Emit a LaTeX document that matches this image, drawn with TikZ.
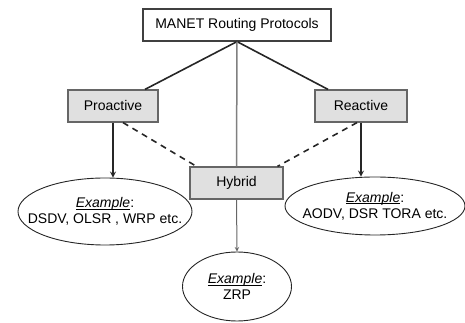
\documentclass[tikz,border=0pt]{standalone}
\usepackage{fontspec}
\setmainfont{Liberation Sans}
\usetikzlibrary{shapes.geometric}

\tikzset{
  toptype/.style={draw=black!75,fill=white,line width=1.2pt,minimum width=188pt,minimum height=32pt,inner sep=0pt},
  classbox/.style={draw=black!60,fill=black!12,line width=1.2pt,minimum height=32pt,inner sep=0pt},
  exbubble/.style={ellipse,draw=black!85,line width=0.9pt,inner sep=0pt},
  branch/.style={line width=1.6pt,black!85},
}
\newsavebox{\exbox}
\newcommand{\exlabel}{\sbox{\exbox}{\textit{Example}}%
  \leavevmode\rlap{\rule[-2pt]{\wd\exbox}{0.7pt}}\usebox{\exbox}:}

\begin{document}
\begin{tikzpicture}[x=1pt,y=1pt,font=\fontsize{14}{16}\selectfont,>=stealth]
      \useasboundingbox (0,0) rectangle (465,323) ;
      \node[toptype] (root) at (237,298) {MANET Routing Protocols} ;
      \node[classbox,minimum width=90pt] (pro) at (113,217) {Proactive} ;
      \node[classbox,minimum width=92pt] (rea) at (361,217) {Reactive} ;
      \node[classbox,minimum width=93pt] (hyb) at (236.5,140) {Hybrid} ;
      \node[exbubble,minimum width=174pt,minimum height=67pt, %
        label={[align=center]center:\exlabel\\DSDV, OLSR , WRP etc.}] %
      (exa) at (105,111.5) {} ;
      \node[exbubble,minimum width=180pt,minimum height=58pt, %
        label={[align=center]center:\exlabel\\AODV, DSR TORA etc.}] %
      (exb) at (375,117) {} ;
      \node[exbubble,minimum width=109pt,minimum height=69pt, %
        label={[align=center]center:\exlabel\\ZRP}] %
      (exc) at (237,36.5) {} ;
      \draw[branch] (root.south) -- ([xshift=32pt]pro.north) ;
      \draw[branch] (root.south) -- ([xshift=-33pt]rea.north) ;
      \draw[black!50,line width=1.5pt] (root.south) -- (hyb.north) ;
      \draw[branch,dash pattern=on 6pt off 5pt] ([xshift=10pt]pro.south) -- ([xshift=-40pt]hyb.north) ;
      \draw[branch,dash pattern=on 6pt off 5pt] ([xshift=-4pt]rea.south) -- ([xshift=41pt]hyb.north) ;
      \draw[branch,->] (pro.south) -- (pro.south |- exa.north) ;
      \draw[branch,->] (rea.south) -- (rea.south |- exb.north) ;
      \draw[black!60,line width=1pt,->] (hyb.south) -- (exc.north) ;
    \end{tikzpicture}
\end{document}
